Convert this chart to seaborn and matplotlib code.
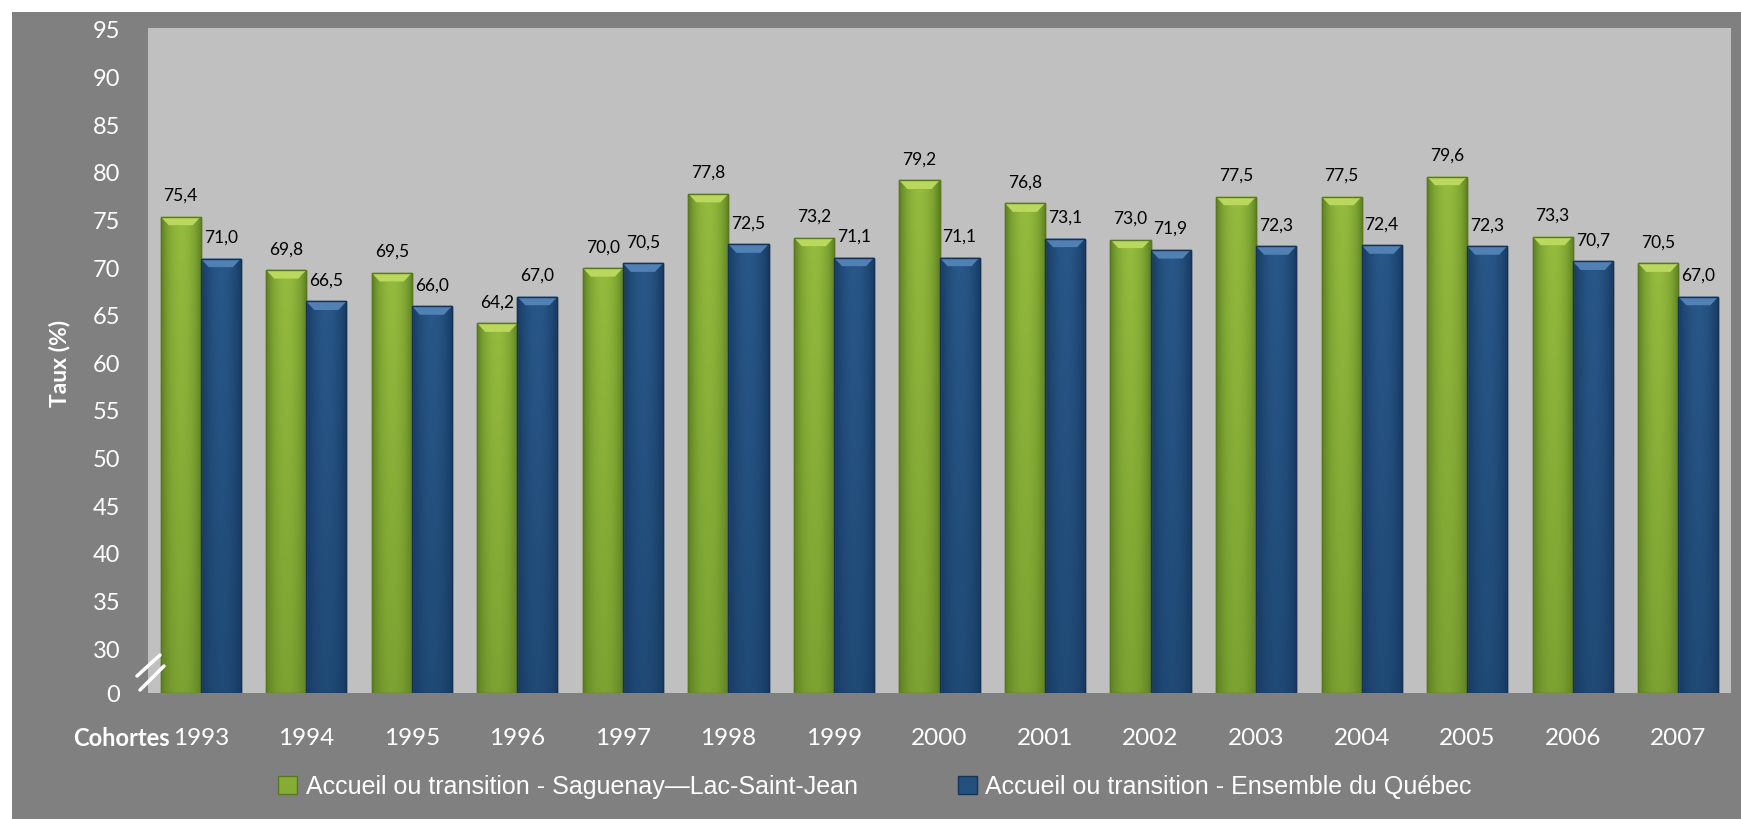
import pandas as pd
import numpy as np
import matplotlib
matplotlib.use("Agg")
import matplotlib.pyplot as plt
from matplotlib.patches import Rectangle, Polygon
from matplotlib.lines import Line2D
from matplotlib.colors import LinearSegmentedColormap
import seaborn as sns

# data
years = ["1993", "1994", "1995", "1996", "1997", "1998", "1999", "2000",
         "2001", "2002", "2003", "2004", "2005", "2006", "2007"]
slsj = [75.4, 69.8, 69.5, 64.2, 70.0, 77.8, 73.2, 79.2,
        76.8, 73.0, 77.5, 77.5, 79.6, 73.3, 70.5]
quebec = [71.0, 66.5, 66.0, 67.0, 70.5, 72.5, 71.1, 71.1,
          73.1, 71.9, 72.3, 72.4, 72.3, 70.7, 67.0]
series = ["Accueil ou transition - Saguenay\u2014Lac-Saint-Jean",
          "Accueil ou transition - Ensemble du Qu\u00e9bec"]
ytick_vals = [25.4, 30, 35, 40, 45, 50, 55, 60, 65, 70, 75, 80, 85, 90, 95]
ytick_labels = ["0"] + [str(v) for v in range(30, 100, 5)]

df = pd.DataFrame({
    "year": years * 2,
    "value": slsj + quebec,
    "series": [series[0]] * len(years) + [series[1]] * len(years),
})

green = "#86AC36"
blue = "#23507F"
green_top = "#BAD85E"
blue_top = "#5080B4"
green_cmap = LinearSegmentedColormap.from_list("g", ["#5F8024", "#7AA031", "#94BA3E"])
blue_cmap = LinearSegmentedColormap.from_list("b", ["#173A62", "#1F4874", "#285788"])

sns.set_theme(style="white")
plt.rcParams["font.family"] = ["Lato", "DejaVu Sans"]

fig = plt.figure(figsize=(17.41, 8.19), dpi=100)
fig.patch.set_facecolor("white")
fig.patches.append(Rectangle((12 / 1741, 0), 1, 1 - 12 / 819, transform=fig.transFigure,
                             facecolor="#808080", edgecolor="none", zorder=-10))

ax = fig.add_axes([148 / 1741, 1 - 693 / 819, (1731 - 148) / 1741, (693 - 28) / 819])
ax.set_facecolor("#C0C0C0")

sns.barplot(data=df, x="year", y="value", hue="series", palette=[green, blue],
            width=0.76, gap=0, ax=ax, legend=False, saturation=1,
            edgecolor="none", linewidth=0)

ax.set_ylim(25.4, 95.2)
ax.set_xlim(-0.5, len(years) - 0.5)

# shading grid for the bars (light in the middle, darker at sides and bottom)
gx = np.linspace(-1, 1, 60)
gy = np.linspace(0, 1, 60)
horiz = 1 - gx ** 2
vert = 0.55 + 0.45 * gy
shade = np.outer(vert, horiz)

# bevel on top of bars + value labels
n = len(years)
for i, p in enumerate(list(ax.patches)):
    x0 = p.get_x()
    w = p.get_width()
    h = p.get_height()
    if h <= 0:
        continue
    is_green = i < n
    p.set_edgecolor("#5A7820" if is_green else "#163356")
    p.set_linewidth(1.0)
    im = ax.imshow(shade, extent=[x0, x0 + w, 25.4, h], origin="lower", aspect="auto",
                   cmap=green_cmap if is_green else blue_cmap, vmin=0, vmax=1,
                   zorder=p.get_zorder() + 0.05, interpolation="bilinear")
    im.set_clip_path(p)
    bev = Polygon([(x0, h), (x0 + w, h), (x0 + w * 0.8, h - 0.9), (x0 + w * 0.2, h - 0.9)],
                  closed=True, facecolor=green_top if is_green else blue_top,
                  edgecolor="none", zorder=p.get_zorder() + 0.1)
    ax.add_patch(bev)
    ax.add_patch(Rectangle((x0, 25.4), w, h - 25.4, facecolor="none",
                           edgecolor="#5A7820" if is_green else "#163356",
                           linewidth=1.0, zorder=p.get_zorder() + 0.2))
    lbl = f"{h:.1f}".replace(".", ",")
    ax.text(x0 + w / 2, h + 1.35, lbl, ha="center", va="bottom",
            fontsize=12.5, color="black")

ax.set_xlim(-0.5, len(years) - 0.5)
ax.set_ylim(25.4, 95.2)

for s in ax.spines.values():
    s.set_visible(False)

ax.set_yticks(ytick_vals)
ax.set_yticklabels(ytick_labels)
ax.tick_params(axis="y", length=0, pad=20, labelsize=17, labelcolor="white")
ax.tick_params(axis="x", length=0, pad=25, labelsize=17.5, labelcolor="white")
ax.set_xlabel("")
ax.set_ylabel("")

# axis break marks
fig.lines.append(Line2D([137 / 1741, 160 / 1741], [1 - 676 / 819, 1 - 655 / 819],
                        transform=fig.transFigure, color="white", lw=2.5))
fig.lines.append(Line2D([140 / 1741, 164 / 1741], [1 - 690 / 819, 1 - 666 / 819],
                        transform=fig.transFigure, color="white", lw=2.5))

fig.text(60 / 1741, 1 - 363 / 819, "Taux (%)", rotation=90, ha="center", va="center",
         fontsize=16.5, fontweight="bold", color="white")
fig.text(73 / 1741, 1 - 738 / 819, "Cohortes", ha="left", va="center",
         fontsize=17, fontweight="bold", color="white")

handles = [Rectangle((0, 0), 1, 1, facecolor=green, edgecolor="#5A7820"),
           Rectangle((0, 0), 1, 1, facecolor=blue, edgecolor="#163356")]
leg = fig.legend(handles, series, loc="center", bbox_to_anchor=(875 / 1741, 1 - 787 / 819),
                 ncol=2, frameon=False, handlelength=0.75, handleheight=0.75,
                 handletextpad=0.35, columnspacing=4.0,
                 prop={"family": ["Liberation Sans Narrow", "Liberation Sans", "DejaVu Sans"],
                       "size": 18})
for t in leg.get_texts():
    t.set_color("white")

fig.savefig("out.png", dpi=100)
